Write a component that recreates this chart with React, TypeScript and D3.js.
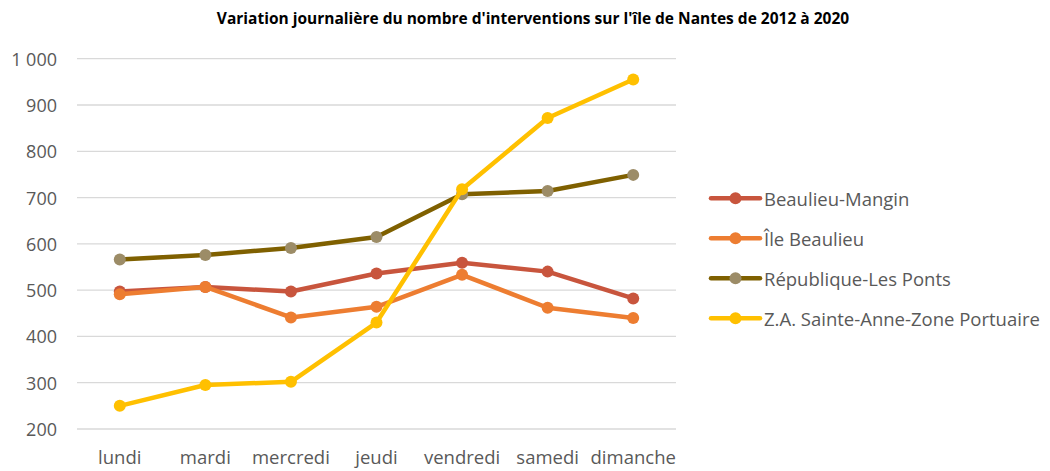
import React from "react";
import * as d3 from "d3";

const days = ["lundi", "mardi", "mercredi", "jeudi", "vendredi", "samedi", "dimanche"];
const yTicks = [200, 300, 400, 500, 600, 700, 800, 900, 1000];
const seriesNames = ["Beaulieu-Mangin", "Île Beaulieu", "République-Les Ponts", "Z.A. Sainte-Anne-Zone Portuaire"];
const beaulieuMangin = [497, 507, 497, 536, 559, 540, 482];
const ileBeaulieu = [491, 507, 441, 464, 533, 462, 440];
const republique = [566, 576, 591, 615, 707, 714, 749];
const zoneAnne = [250, 295, 302, 430, 718, 872, 955];
const lineColors = ["#C8553D", "#ED7D31", "#7F6000", "#FFC000"];
const markerColors = ["#C8553D", "#ED7D31", "#9C8C67", "#FFC000"];
const title = "Variation journalière du nombre d'interventions sur l'île de Nantes de 2012 à 2020";

const W = 1050, H = 471;
const FONT = "'Open Sans', sans-serif";

export default function App() {
  const allSeries = [beaulieuMangin, ileBeaulieu, republique, zoneAnne];
  const x = d3.scaleBand<string>().domain(days).range([77, 676]);
  const y = d3.scaleLinear().domain([200, 1000]).range([429, 58.7]);
  const line = d3.line<number>().x((_, i) => (x(days[i]) as number) + x.bandwidth() / 2).y((d) => y(d));
  const fmt = (v: number) => d3.format(",")(v).replace(",", " ");
  const legendY = d3.scalePoint<string>().domain(seriesNames).range([198.3, 318.3]);

  return (
    <svg width={W} height={H} style={{ position: "absolute", left: 0, top: 0, background: "#fff" }} fontFamily={FONT}>
      <rect width={W} height={H} fill="#fff" />
      <text x={533} y={18} textAnchor="middle" dominantBaseline="central" fontWeight="bold" fontSize={15.5} fill="#000">{title}</text>
      {yTicks.map((t) => (
        <g key={t}>
          <line x1={77} x2={676} y1={y(t)} y2={y(t)} stroke="#d9d9d9" strokeWidth={1.3} />
          <text x={57} y={y(t)} textAnchor="end" dominantBaseline="central" fontSize={18} fill="#595959">{fmt(t)}</text>
        </g>
      ))}
      {days.map((d) => (
        <text key={d} x={(x(d) as number) + x.bandwidth() / 2} y={456.5} textAnchor="middle" dominantBaseline="central" fontSize={18.5} fill="#595959">{d}</text>
      ))}
      {allSeries.map((s, si) => (
        <g key={si}>
          <path d={line(s) || ""} fill="none" stroke={lineColors[si]} strokeWidth={4.5} strokeLinejoin="round" strokeLinecap="round" />
          {s.map((v, i) => (
            <circle key={i} cx={(x(days[i]) as number) + x.bandwidth() / 2} cy={y(v)} r={6} fill={markerColors[si]} />
          ))}
        </g>
      ))}
      {seriesNames.map((n, si) => {
        const ly = legendY(n) as number;
        return (
          <g key={n}>
            <line x1={711} x2={760} y1={ly} y2={ly} stroke={lineColors[si]} strokeWidth={4.5} strokeLinecap="round" />
            <circle cx={735.5} cy={ly} r={6} fill={markerColors[si]} />
            <text x={764} y={ly} dominantBaseline="central" fontSize={18.5} fill="#595959">{n}</text>
          </g>
        );
      })}
    </svg>
  );
}
